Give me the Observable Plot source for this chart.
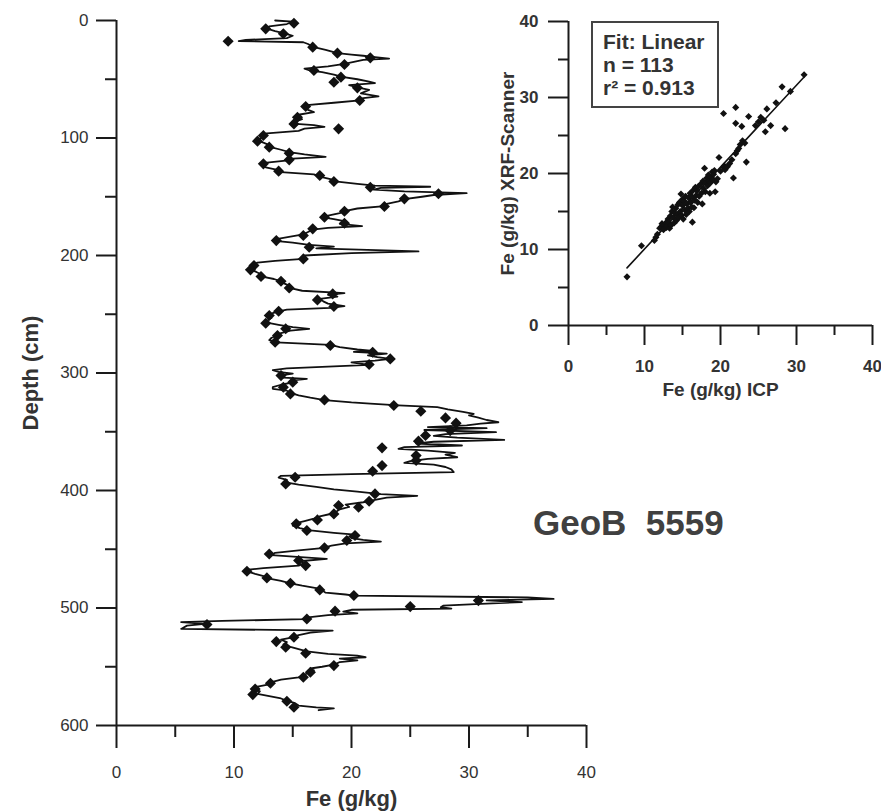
<!DOCTYPE html>
<html><head><meta charset="utf-8">
<script src="https://cdn.jsdelivr.net/npm/d3@7"></script>
<script src="https://cdn.jsdelivr.net/npm/@observablehq/plot@0.6"></script>
<style>
body{margin:0;background:#fff;}
#wrap{position:relative;width:881px;height:812px;font-family:"Liberation Sans",Arial,sans-serif;color:#333;}
#main,#inset{position:absolute;top:0;}
#main{left:0;}
#inset{left:480px;}
#inset svg{background:transparent !important;}
#inset text{font-weight:bold;}
#statbox{position:absolute;left:591px;top:21px;width:128px;height:87px;box-sizing:border-box;border:2px solid #444;padding:7px 0 0 10px;font-weight:bold;font-size:21px;line-height:23px;color:#333;background:#fff;}
#geob{position:absolute;left:533px;top:505px;font-weight:bold;font-size:35px;line-height:36px;color:#404040;white-space:pre;}
</style></head><body>
<div id="wrap"><div id="main"></div><div id="inset"></div><div id="statbox"></div><div id="geob"></div></div>
<script>
// ---- data ----
// XRF-scanner Fe profile: [depth (cm), Fe (g/kg)]
const xrfLine = [[0,13.5],[1,15.0],[3,14.5],[5,13.0],[7,12.8],[9,13.5],[11,14.3],[13,15.0],[15,14.5],[16.5,11.0],[17.5,10.4],[18.5,15.9],[20,16.3],[22.7,16.8],[25,17.8],[27.8,18.8],[29,20.0],[30,21.0],[31,21.8],[32.5,23.2],[33.5,21.0],[35,20.3],[37,19.4],[39,18.0],[41,16.0],[42.6,16.5],[44,17.5],[46,18.5],[48,19.2],[50,20.5],[52,21.5],[53.3,22.0],[55,19.8],[57,20.5],[59,21.5],[62,20.8],[64.5,22.3],[66,21.0],[68,20.7],[70,18.5],[72,16.2],[74,16.0],[76,16.3],[78,16.8],[80,15.6],[82,15.4],[84,15.8],[86,15.2],[88,15.3],[89,16.8],[90.5,17.7],[92,16.0],[94,15.5],[96,12.8],[98,12.5],[100,12.3],[102,12.0],[104,12.5],[106,13.0],[108,13.2],[110,14.0],[112,14.7],[114,16.0],[116,17.8],[117.5,15.0],[119,14.6],[121,12.8],[123,12.4],[125,12.7],[127,13.6],[129,14.0],[131,16.8],[133,17.4],[135,18.2],[137,18.6],[139,20.5],[140.5,22.0],[141.5,26.7],[142.5,22.5],[144,21.9],[145.5,24.5],[147,29.8],[148.5,27.0],[150,26.0],[152,24.5],[154,24.0],[156,23.0],[158,22.8],[160,20.5],[162.3,19.4],[164,19.0],[166,18.0],[167.5,17.6],[169,18.5],[171,19.5],[173,19.0],[175,20.9],[176.5,18.0],[178,16.7],[180,16.3],[182,15.9],[184,14.8],[186,13.6],[187.5,13.5],[189,15.0],[191,16.4],[192.5,18.5],[194,17.0],[196.5,25.7],[198,20.0],[200,16.0],[202.9,15.9],[204.5,13.5],[206,12.0],[208,11.7],[210,11.5],[212,11.4],[214,11.9],[216,12.3],[218,12.4],[220,13.4],[222,14.0],[224,14.3],[226,14.8],[228,14.9],[230,15.8],[232,19.4],[233.5,18.0],[235,18.8],[237,17.3],[239,17.6],[241,18.0],[243,19.4],[244.5,18.2],[246,14.5],[247.5,13.8],[249,13.3],[251,13.0],[253,13.2],[255,12.9],[257,12.7],[259,13.8],[261,15.0],[262.5,16.4],[264,14.8],[266,14.0],[268,13.7],[270,13.2],[272,13.0],[274,13.6],[276,18.2],[278,19.0],[280,20.5],[281,21.6],[282,20.2],[283.5,23.0],[285,21.4],[286.5,22.2],[288,23.3],[289.5,22.0],[291,20.0],[293,21.5],[294.5,18.0],[296,14.5],[297.5,13.3],[299,13.8],[300.5,15.0],[302,14.0],[304,14.2],[305,16.2],[306.5,14.8],[308,15.0],[310,14.0],[312,13.3],[313.5,13.3],[315,14.5],[317,14.8],[319,15.5],[321,16.5],[323,17.7],[325,20.0],[326,21.6],[327.5,24.0],[329,27.3],[331,28.2],[333,29.5],[334.8,30.4],[336,30.0],[338,30.8],[340,31.5],[341.9,32.5],[343,31.0],[344.5,29.8],[346,26.5],[347,31.5],[348.5,26.2],[350.4,32.3],[352,28.0],[353.5,27.0],[355,29.0],[357,33.0],[358.5,27.0],[360,25.5],[361.7,29.4],[363,24.5],[364.5,24.0],[366,26.5],[368,28.8],[369.5,28.0],[371.7,29.0],[373,26.5],[375,25.0],[376.5,24.5],[378,27.0],[380,28.0],[382,28.5],[384.4,28.7],[386,20.0],[387.5,14.0],[389,13.8],[391,14.5],[393,14.4],[395,15.5],[397,17.0],[399,18.5],[401,20.5],[403,22.5],[404.5,25.6],[406,23.0],[408,22.0],[410,21.0],[412,19.5],[414,19.8],[416,19.0],[418,18.7],[420,18.2],[422,17.3],[424,16.8],[426,16.0],[428,15.2],[430,15.0],[432,15.6],[434,16.5],[436,18.5],[437.5,20.3],[439,19.8],[440.5,20.0],[442,21.0],[443.5,22.5],[445,19.5],[447,18.3],[449,17.5],[451,15.5],[453,13.5],[455,13.2],[457,16.0],[458.2,17.9],[460,15.8],[462,15.9],[464,15.5],[466,12.5],[467.6,11.0],[469,11.2],[471,11.8],[473,12.6],[475,13.0],[477,14.0],[479,14.8],[481,15.8],[483,17.0],[485,17.5],[487,17.8],[488.5,19.5],[489.5,20.2],[491,35.0],[492.2,37.2],[493.5,31.5],[495,34.5],[496.5,31.0],[498,27.8],[499.3,27.6],[500.5,28.5],[501.5,20.0],[503,19.3],[504.5,20.5],[506,18.0],[508,16.3],[509.5,16.0],[511,9.0],[512.1,5.5],[513.5,7.5],[515,6.0],[517.8,5.5],[519.2,18.4],[521,16.5],[523,15.5],[525,15.0],[527,14.0],[529,14.5],[531,14.2],[533,14.8],[535,15.5],[537,16.2],[539,18.0],[540.5,20.5],[541.9,21.2],[543,19.0],[544.5,20.5],[546,19.0],[548,18.6],[550,17.5],[551.5,16.5],[553,16.8],[555,16.3],[557,16.0],[559,15.5],[561,14.0],[563,13.2],[565,13.0],[567,12.0],[569,11.8],[571,12.2],[573,12.0],[575,13.0],[577,14.0],[579,14.5],[581,15.2],[583,15.5],[584.5,17.0],[585.5,18.5],[587,17.2]];

// ICP Fe samples: [depth (cm), Fe (g/kg)]
const icpPoints = [[2.3,15.1],[7.1,12.7],[11.3,14.2],[17.6,9.5],[22.7,16.7],[27.8,18.8],[31.8,21.6],[37.4,19.4],[42.6,16.8],[48.2,19.1],[52.5,18.5],[57.3,20.5],[68.1,20.7],[73.2,16.1],[82.3,15.4],[88,15.1],[92.2,18.9],[97.9,12.5],[102.7,12.0],[107.8,13.0],[112.9,14.7],[118.6,14.7],[122,12.5],[128.2,13.8],[131.9,17.3],[137,18.5],[141.9,21.6],[147.5,27.4],[151.8,24.5],[158.3,22.8],[162.3,19.4],[167.4,17.7],[172.5,19.4],[177.3,16.7],[183,15.9],[187.3,13.6],[193,16.4],[202.9,15.9],[208.5,11.7],[212.2,11.4],[217.9,12.3],[221.9,14.0],[227.6,14.7],[232.7,18.4],[237.8,17.1],[243.4,18.5],[247.4,13.8],[251.1,13.0],[257.6,12.7],[262.4,14.4],[268.1,13.7],[273.8,13.5],[276.6,18.2],[282.3,21.8],[288,23.3],[292.8,21.5],[302.2,14.0],[307.8,15.0],[312.1,14.2],[317.8,14.8],[322.9,17.7],[327.7,23.6],[332.5,25.9],[338.2,28.0],[342.7,28.9],[349,28.4],[353.2,26.3],[358,25.7],[363.7,22.6],[370.3,25.5],[374.5,25.5],[378.8,22.6],[383.6,21.8],[388.7,15.2],[394.4,14.4],[402.9,22.0],[409.1,21.5],[412.8,18.9],[414.2,20.6],[419.9,18.5],[425,17.1],[428.4,15.3],[434.1,16.2],[438.3,20.3],[442.6,19.6],[448.8,17.7],[454,13.0],[459.6,15.5],[463.9,16.1],[468.7,11.1],[474.4,12.8],[478.9,14.8],[484.6,17.3],[489.4,20.2],[493.7,30.8],[498.8,25.0],[502.7,18.6],[509.3,16.2],[514.1,7.7],[524.9,15.1],[528.6,13.6],[533.4,14.4],[538.5,16.1],[549,18.5],[554.7,16.5],[558.9,15.9],[564,13.1],[568.9,11.8],[573.7,11.6],[579.4,14.5],[584.5,15.1]];

// Inset scatter: [Fe ICP, Fe XRF-Scanner]
const scatterPoints = [[7.7,6.4],[9.6,10.5],[11.3,11.2],[11.5,11.6],[11.7,12.0],[12.0,12.8],[12.2,13.0],[12.3,13.4],[12.5,12.6],[12.6,13.2],[12.8,13.5],[12.9,12.9],[13.0,13.1],[13.1,14.0],[13.2,13.6],[13.3,12.8],[13.4,14.4],[13.5,13.2],[13.6,15.0],[13.7,15.6],[13.8,14.2],[13.9,13.5],[14.0,14.8],[14.1,15.4],[14.2,13.8],[14.3,14.6],[14.4,15.9],[14.5,14.2],[14.6,16.2],[14.7,15.0],[14.8,17.3],[14.9,14.5],[15.0,15.8],[15.0,16.6],[15.1,14.0],[15.2,16.4],[15.3,15.2],[15.4,17.0],[15.5,14.6],[15.6,16.0],[15.7,15.4],[15.8,16.8],[15.9,15.0],[16.0,17.4],[16.1,16.2],[16.2,15.6],[16.3,13.6],[16.3,16.9],[16.4,17.8],[16.5,15.5],[16.6,16.5],[16.7,18.2],[16.8,17.1],[16.9,17.7],[17.0,16.2],[17.1,18.3],[17.2,17.0],[17.4,18.6],[17.5,17.4],[17.6,16.0],[17.7,19.0],[17.8,18.0],[17.9,20.7],[18.0,17.6],[18.1,18.8],[18.2,19.4],[18.3,18.4],[18.4,19.8],[18.5,19.0],[18.6,17.4],[18.7,18.8],[18.8,19.5],[18.9,20.2],[19.0,19.2],[19.1,19.9],[19.2,20.4],[19.3,17.6],[19.4,18.9],[19.6,19.3],[19.8,22.1],[20.0,20.3],[20.4,20.8],[20.5,21.0],[20.6,20.5],[20.9,20.9],[21.2,21.3],[21.5,21.8],[21.7,19.4],[22.0,22.6],[22.2,23.0],[22.4,23.3],[22.9,24.3],[22.6,23.8],[23.2,24.0],[20.4,27.9],[22.0,28.7],[22.0,26.6],[22.8,26.2],[23.4,21.5],[23.7,27.5],[24.6,26.3],[25.3,27.4],[25.7,27.0],[25.9,25.5],[26.6,26.3],[26.1,28.5],[25.0,26.8],[27.3,29.3],[28.5,25.9],[28.1,31.4],[29.2,30.8],[31.0,33.0]];

const feMajor = [0,10,20,30,40];
const feMinor = [5,15,25,35];
const depthMajor = [0,100,200,300,400,500,600];
const depthMinor = [50,150,250,350,450,550];
const insetMajor = [0,10,20,30,40];
const insetMinor = [5,15,25,35];

const xTitle = "Fe (g/kg)";
const yTitle = "Depth (cm)";
const insetXTitle = "Fe (g/kg) ICP";
const insetYTitle = "Fe (g/kg) XRF-Scanner";
const statLines = ["Fit: Linear", "n = 113", "r² = 0.913"];
const coreName = "GeoB  5559";

// ---- main profile ----
const ink = "#111";
const main = Plot.plot({
  width: 881, height: 812,
  marginLeft: 116, marginRight: 295, marginTop: 20, marginBottom: 87,
  style: {fontFamily: '"Liberation Sans", Arial, sans-serif', fontSize: "17px", color: "#333", background: "#fff"},
  x: {domain: [0, 40], axis: null, label: null},
  y: {domain: [0, 600], reverse: true, axis: null, label: null},
  marks: [
    Plot.axisY({ticks: depthMajor, tickSize: 20, tickPadding: 8, strokeWidth: 2, stroke: "#1a1a1a", fontSize: 17, label: null}),
    Plot.axisY({ticks: depthMinor, tickSize: 11, strokeWidth: 2, stroke: "#1a1a1a", fill: "none", label: null}),
    Plot.axisX({ticks: feMajor, tickSize: 23, tickPadding: 17, strokeWidth: 2, stroke: "#1a1a1a", fontSize: 17, label: null}),
    Plot.axisX({ticks: feMinor, tickSize: 12, strokeWidth: 2, stroke: "#1a1a1a", fill: "none", label: null}),
    Plot.ruleX([0], {stroke: "#1a1a1a", strokeWidth: 2}),
    Plot.ruleY([600], {stroke: "#1a1a1a", strokeWidth: 2}),
    Plot.line(xrfLine, {x: d => d[1], y: d => d[0], stroke: ink, strokeWidth: 1.8, curve: "linear"}),
    Plot.dot(icpPoints, {x: d => d[1], y: d => d[0], symbol: "diamond2", r: 5, fill: ink, stroke: "none"}),
    Plot.text([xTitle], {text: d => d, frameAnchor: "bottom", dy: 73, lineAnchor: "middle", textAnchor: "middle", fontSize: 22, fontWeight: "bold", fill: "#333"}),
    Plot.text([yTitle], {text: d => d, frameAnchor: "left", dx: -86, rotate: -90, lineAnchor: "middle", textAnchor: "middle", fontSize: 22, fontWeight: "bold", fill: "#333"})
  ]
});
document.getElementById("main").append(main);

// ---- inset scatter ----
const inset = Plot.plot({
  width: 401, height: 400,
  marginLeft: 88, marginRight: 9, marginTop: 21, marginBottom: 75,
  style: {fontFamily: '"Liberation Sans", Arial, sans-serif', fontSize: "17px", color: "#333", background: "transparent"},
  x: {domain: [0, 40], axis: null, label: null},
  y: {domain: [0, 40], axis: null, label: null},
  marks: [
    Plot.axisY({ticks: insetMajor, tickSize: 20, tickPadding: 10, strokeWidth: 2, stroke: "#1a1a1a", fontSize: 17, fontWeight: "bold", label: null}),
    Plot.axisY({ticks: insetMinor, tickSize: 10, strokeWidth: 2, stroke: "#1a1a1a", fill: "none", label: null}),
    Plot.axisX({ticks: insetMajor, tickSize: 20, tickPadding: 14, strokeWidth: 2, stroke: "#1a1a1a", fontSize: 17, fontWeight: "bold", label: null}),
    Plot.axisX({ticks: insetMinor, tickSize: 10, strokeWidth: 2, stroke: "#1a1a1a", fill: "none", label: null}),
    Plot.ruleX([0], {stroke: "#1a1a1a", strokeWidth: 2}),
    Plot.ruleY([0], {stroke: "#1a1a1a", strokeWidth: 2}),
    Plot.linearRegressionY(scatterPoints, {x: d => d[0], y: d => d[1], ci: 0, stroke: ink, strokeWidth: 1.6}),
    Plot.dot(scatterPoints, {x: d => d[0], y: d => d[1], symbol: "diamond2", r: 3.2, fill: ink, stroke: "none"}),
    Plot.text([insetXTitle], {text: d => d, frameAnchor: "bottom", dy: 64, lineAnchor: "middle", textAnchor: "middle", fontSize: 19, fontWeight: "bold", fill: "#333"}),
    Plot.text([insetYTitle], {text: d => d, frameAnchor: "left", dx: -61, rotate: -90, lineAnchor: "middle", textAnchor: "middle", fontSize: 19, fontWeight: "bold", fill: "#333"})
  ]
});
document.getElementById("inset").append(inset);

document.getElementById("statbox").innerHTML = statLines.map(s => `<div>${s}</div>`).join("");
document.getElementById("geob").textContent = coreName;
</script>
</body></html>
